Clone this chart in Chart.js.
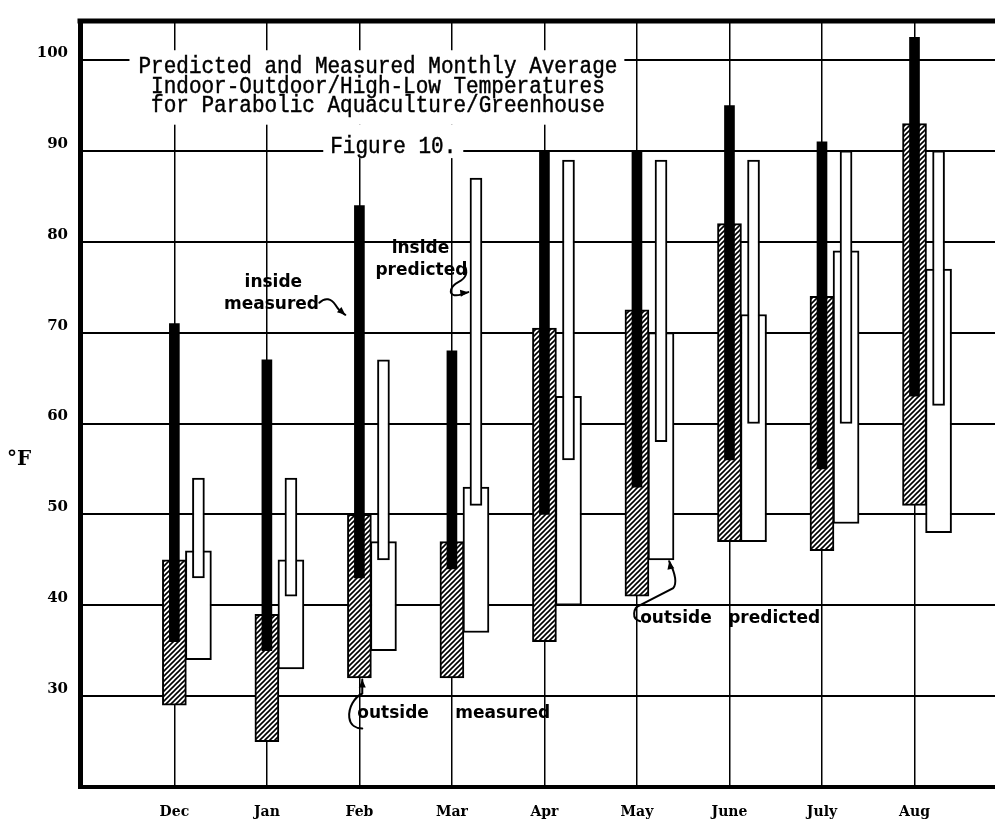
<!DOCTYPE html>
<html>
<head>
<meta charset="utf-8">
<title>Figure 10 - Parabolic Aquaculture/Greenhouse temperatures</title>
<script src="https://cdn.jsdelivr.net/npm/chart.js@4.4.1/dist/chart.umd.min.js"></script>
<style>
  html, body { margin: 0; padding: 0; background: #fff; overflow: hidden; }
  #wrap { position: relative; width: 995px; height: 825px; }
</style>
</head>
<body>
<div id="wrap"><canvas id="chart"></canvas></div>
<script>
// Months along the x axis
const months = ['Dec', 'Jan', 'Feb', 'Mar', 'Apr', 'May', 'June', 'July', 'Aug'];

// Monthly average low / high temperatures, °F
const outsideMeasuredLow   = [29, 25, 32, 32, 36, 41, 47, 46, 51];
const outsideMeasuredHigh  = [45, 39, 50, 47, 70.5, 72.5, 82, 74, 93];
const insideMeasuredLow    = [36, 35, 43, 44, 50, 53, 56, 55, 63];
const insideMeasuredHigh   = [71, 67, 84, 68, 90, 90, 95, 91, 102.5];
const outsidePredictedLow  = [34, 33, 35, 37, 40, 45, 47, 49, 48];
const outsidePredictedHigh = [46, 45, 47, 53, 63, 70, 72, 79, 77];
const insidePredictedLow   = [43, 41, 45, 51, 56, 58, 60, 60, 62];
const insidePredictedHigh  = [54, 54, 67, 87, 89, 89, 89, 90, 90];

// Temperature ticks
const yTicks = [30, 40, 50, 60, 70, 80, 90, 100];

// Heading text
const titleLines = [
  'Predicted and Measured Monthly Average',
  'Indoor-Outdoor/High-Low Temperatures',
  'for Parabolic Aquaculture/Greenhouse'
];
const caption = 'Figure 10.';

// Hand-lettered call-outs: [text, month position, baseline °F]
const notes = [
  ['inside', 1.07, 75.0, 'center'],
  ['measured', 1.05, 72.6, 'center'],
  ['inside', 2.66, 78.8, 'center'],
  ['predicted', 2.67, 76.4, 'center'],
  ['outside', 1.977, 27.6, 'left'],
  ['measured', 3.036, 27.6, 'left'],
  ['outside', 5.035, 38.0, 'left'],
  ['predicted', 5.986, 38.0, 'left']
];

// Call-out pointers: tip in chart units, stroke in pixel offsets from the tip
const pointers = [
  { tip: [1.848, 71.97], from: [-6, -5],
    path: [['M', -26, -12], ['C', -20, -18, -14, -16, -10, -10], ['C', -7, -5, -4, -2, 0, 0]] },
  { tip: [3.177, 74.46], from: [-7, 1],
    path: [['M', -4, -27], ['C', 0, -20, -2, -14, -10, -10], ['C', -18, -6, -20, 2, -14, 3], ['C', -10, 4, -5, 2, 0, 0]] },
  { tip: [2.031, 31.83], from: [0, 8],
    path: [['M', 0, 0], ['L', 0, 14], ['C', -8, 18, -14, 28, -13, 38], ['C', -12, 46, -6, 49, 0, 49]] },
  { tip: [5.348, 44.85], from: [2, 9],
    path: [['M', -29, 44], ['L', 4, 27], ['C', 8, 22, 6, 12, 0, 0], ['M', -29, 44], ['C', -36, 46, -38, 58, -29, 60]] }
];

// Diagonal hatching used for the outside-measured bars
function makeHatch() {
  const s = 5;
  const c = document.createElement('canvas');
  c.width = s; c.height = s;
  const g = c.getContext('2d');
  g.fillStyle = '#fff';
  g.fillRect(0, 0, s, s);
  g.strokeStyle = '#000';
  g.lineWidth = 1.6;
  g.beginPath();
  g.moveTo(-1, s + 1); g.lineTo(s + 1, -1);
  g.moveTo(-1, 1); g.lineTo(1, -1);
  g.moveTo(s - 1, s + 1); g.lineTo(s + 1, s - 1);
  g.stroke();
  return g.createPattern(c, 'repeat');
}
const hatch = makeHatch();

const toBars = (lo, hi) => months.map((_, i) => ({ x: i, y: [lo[i], hi[i]] }));

function arrowHead(ctx, tx, ty, fx, fy) {
  const ang = Math.atan2(ty - fy, tx - fx);
  const len = 8, half = 3.5;
  const bx = tx - len * Math.cos(ang), by = ty - len * Math.sin(ang);
  ctx.beginPath();
  ctx.moveTo(tx, ty);
  ctx.lineTo(bx + half * Math.sin(ang), by - half * Math.cos(ang));
  ctx.lineTo(bx - half * Math.sin(ang), by + half * Math.cos(ang));
  ctx.closePath();
  ctx.fill();
}

// Frame top, heading panel and call-outs
const decor = {
  id: 'decor',
  beforeDatasetsDraw(chart) {
    const { ctx, chartArea: a, scales: { x, y } } = chart;
    ctx.save();
    ctx.strokeStyle = '#000';
    ctx.lineWidth = 5;
    ctx.beginPath();
    ctx.moveTo(a.left - 2.5, a.top);
    ctx.lineTo(a.right, a.top);
    ctx.stroke();

    const vScale = 1.15;
    ctx.font = '21px "Liberation Mono", "Courier New", monospace';
    const cx = x.getPixelForValue(2.2);
    const base = [98.55, 96.38, 94.32].map(v => y.getPixelForValue(v));
    const w = Math.max(...titleLines.map(t => ctx.measureText(t).width));
    const boxTop = base[0] - 23, boxBottom = base[2] + 13;
    const fx = x.getPixelForValue(2.366), fy = y.getPixelForValue(89.76);
    const fw = ctx.measureText(caption).width;
    ctx.fillStyle = '#fff';
    ctx.fillRect(cx - w / 2 - 9, boxTop, w + 16, boxBottom - boxTop);
    ctx.fillRect(fx - fw / 2 - 7, boxBottom, fw + 14, fy + 5 - boxBottom);

    ctx.fillStyle = '#000';
    ctx.strokeStyle = '#000';
    ctx.lineWidth = 0.4;
    ctx.textAlign = 'center';
    ctx.textBaseline = 'alphabetic';
    const put = (t, px, py) => {
      ctx.save();
      ctx.translate(px, py);
      ctx.scale(1, vScale);
      ctx.fillText(t, 0, 0);
      ctx.strokeText(t, 0, 0);
      ctx.restore();
    };
    titleLines.forEach((t, i) => put(t, cx, base[i]));
    put(caption, fx, fy);

    // axis unit
    ctx.font = 'bold 20px "DejaVu Serif"';
    ctx.textAlign = 'left';
    ctx.textBaseline = 'middle';
    ctx.fillText('°F', 7, y.getPixelForValue(56));
    ctx.restore();
  },
  afterDatasetsDraw(chart) {
    const { ctx, scales: { x, y } } = chart;
    ctx.save();
    ctx.fillStyle = '#000';
    ctx.strokeStyle = '#000';
    ctx.font = 'bold 17px "DejaVu Sans"';
    ctx.textBaseline = 'alphabetic';
    notes.forEach(([t, mx, v, al]) => {
      ctx.textAlign = al;
      ctx.fillText(t, x.getPixelForValue(mx), y.getPixelForValue(v));
    });
    ctx.lineWidth = 2;
    ctx.lineCap = 'round';
    pointers.forEach(p => {
      const tx = x.getPixelForValue(p.tip[0]), ty = y.getPixelForValue(p.tip[1]);
      ctx.beginPath();
      p.path.forEach(seg => {
        const [k, ...n] = seg;
        const q = n.map((d, i) => d + (i % 2 ? ty : tx));
        if (k === 'M') ctx.moveTo(q[0], q[1]);
        else if (k === 'L') ctx.lineTo(q[0], q[1]);
        else ctx.bezierCurveTo(q[0], q[1], q[2], q[3], q[4], q[5]);
      });
      ctx.stroke();
      arrowHead(ctx, tx, ty, tx + p.from[0], ty + p.from[1]);
    });
    ctx.restore();
  }
};

const xMin = -1.02, xMax = 8.87, predictedShift = 0.26;

new Chart(document.getElementById('chart'), {
  type: 'bar',
  data: {
    datasets: [
      { label: 'inside measured', data: toBars(insideMeasuredLow, insideMeasuredHigh),
        xAxisID: 'x', backgroundColor: '#000', borderColor: '#000', borderWidth: 0, barThickness: 10 },
      { label: 'outside measured', data: toBars(outsideMeasuredLow, outsideMeasuredHigh),
        xAxisID: 'x', backgroundColor: hatch, borderColor: '#000', borderWidth: 2, barThickness: 24 },
      { label: 'inside predicted', data: toBars(insidePredictedLow, insidePredictedHigh),
        xAxisID: 'xp', backgroundColor: '#fff', borderColor: '#000', borderWidth: 2, barThickness: 12 },
      { label: 'outside predicted', data: toBars(outsidePredictedLow, outsidePredictedHigh),
        xAxisID: 'xp', backgroundColor: '#fff', borderColor: '#000', borderWidth: 2, barThickness: 26 }
    ]
  },
  options: {
    responsive: true,
    maintainAspectRatio: false,
    animation: false,
    datasets: { bar: { grouped: false, borderSkipped: false } },
    layout: { padding: { top: 10, right: 0, bottom: 0, left: 0 } },
    plugins: { legend: { display: false }, tooltip: { enabled: false } },
    scales: {
      x: {
        type: 'linear', position: 'bottom', min: xMin, max: xMax, offset: false,
        grid: { offset: false, color: '#000', lineWidth: 1.5, drawTicks: false },
        border: { color: '#000', width: 4 },
        afterBuildTicks: (axis) => { axis.ticks = months.map((_, i) => ({ value: i })); },
        afterFit: (axis) => { axis.height = 38; },
        ticks: {
          color: '#000', padding: 17, autoSkip: false, maxRotation: 0,
          font: { family: 'DejaVu Serif', weight: 'bold', size: 14 },
          callback: (v) => months[v]
        }
      },
      xp: {
        type: 'linear', display: false, offset: false, grid: { offset: false },
        min: xMin - predictedShift, max: xMax - predictedShift
      },
      y: {
        type: 'linear', min: 20, max: 104.3,
        grid: { color: '#000', lineWidth: 2, drawTicks: false },
        border: { color: '#000', width: 5 },
        afterBuildTicks: (axis) => { axis.ticks = yTicks.map(v => ({ value: v })); },
        afterFit: (axis) => { axis.width = 80; },
        ticks: {
          color: '#000', padding: 12, labelOffset: -7,
          font: { family: 'DejaVu Serif', weight: 'bold', size: 15 }
        }
      }
    }
  },
  plugins: [decor]
});
</script>
</body>
</html>
